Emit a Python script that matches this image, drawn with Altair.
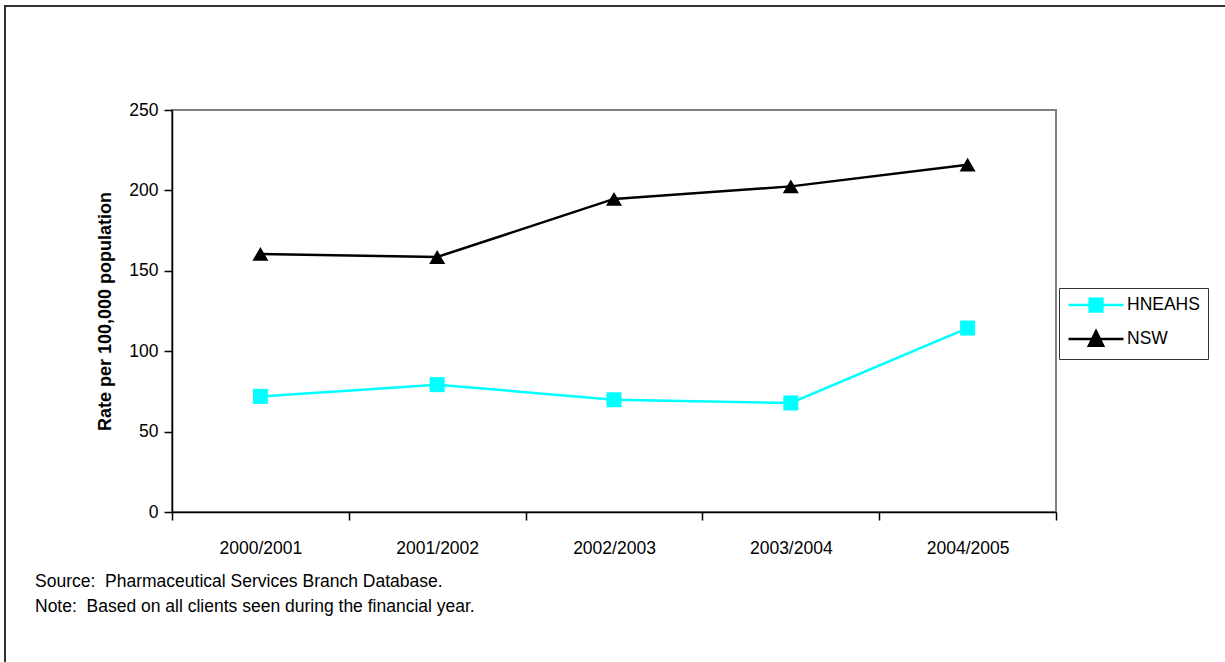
import altair as alt
import pandas as pd

# Financial years on the x axis
years = ["2000/2001", "2001/2002", "2002/2003", "2003/2004", "2004/2005"]
# Rate per 100,000 population, by series
hneahs = [71.9, 79.2, 69.8, 67.8, 114.4]
nsw = [160.5, 158.6, 194.7, 202.5, 216.0]

series_names = ["HNEAHS", "NSW"]
series_colors = ["#00FFFF", "#000000"]
series_shapes = ["square", "triangle-up"]
marker_sizes = [225, 256]
y_ticks = [0, 50, 100, 150, 200, 250]
notes = [
    "Source:\u00a0 Pharmaceutical Services Branch Database.",
    "Note:\u00a0 Based on all clients seen during the financial year.",
]

rows = []
for name, values in zip(series_names, [hneahs, nsw]):
    for yr, v in zip(years, values):
        rows.append({"year": yr, "series": name, "rate": v})
df = pd.DataFrame(rows)

FONT = "Liberation Sans, Arial, sans-serif"
W, H = 884, 402

x_enc = alt.X(
    "year:N",
    sort=years,
    scale=alt.Scale(type="band", paddingInner=0, paddingOuter=0),
    axis=alt.Axis(
        title=None, tickBand="extent", labelAngle=0, tickSize=8,
        labelPadding=19, grid=False,
    ),
)
y_enc = alt.Y(
    "rate:Q",
    scale=alt.Scale(domain=[0, 250], nice=False),
    axis=alt.Axis(
        title="Rate per 100,000 population", values=y_ticks, tickSize=8,
        labelPadding=6, titlePadding=14, grid=False,
    ),
)

base = alt.Chart(df)

# one line + marker layer per series, each in its own fixed colour
series_layers = []
for name, colr, shp, sz in zip(series_names, series_colors, series_shapes, marker_sizes):
    sub = base.transform_filter(alt.datum.series == name)
    series_layers.append(
        sub.mark_line(strokeWidth=2.5, color=colr).encode(x=x_enc, y=y_enc)
    )
    series_layers.append(
        sub.mark_point(shape=shp, filled=True, size=sz, opacity=1, color=colr).encode(x=x_enc, y=y_enc)
    )

# Legend keys: a short line with the series marker in its middle
key_paths = [
    "M-1,0H6.33M1.82,-0.85H3.52V0.85H1.82Z",
    "M-1,0H6.33M2.67,-1.05L3.62,0.9H1.72Z",
]
key_legend = alt.Legend(
    title=None, orient="none", legendX=887, legendY=178, padding=8,
    strokeColor="#333333", fillColor="white", labelFontSize=17.5, labelFont=FONT,
    labelColor="black", symbolSize=225, labelOffset=42, rowPadding=9,
    symbolStrokeWidth=2.5, symbolOpacity=1,
    labelExpr="datum.label == 'NSW' ? '\u00a0NSW' : datum.label",
)
key_colors = alt.Scale(domain=series_names, range=series_colors)
# transparent marks that only carry the legend
key = base.mark_point(filled=True, opacity=0, strokeWidth=2.5, size=225).encode(
    x=x_enc, y=y_enc,
    shape=alt.Shape("series:N", scale=alt.Scale(domain=series_names, range=key_paths), legend=key_legend),
    fill=alt.Fill("series:N", scale=key_colors, legend=key_legend),
    stroke=alt.Stroke("series:N", scale=key_colors, legend=key_legend),
)

note_text = alt.Chart(pd.DataFrame({"t": ["\n".join(notes)]})).mark_text(
    x=-137, y=477, align="left", baseline="alphabetic", lineBreak="\n",
    lineHeight=25, fontSize=17.5, font=FONT, color="black",
).encode(text="t:N")

# outer border of the figure
frame = alt.Chart(pd.DataFrame({"f": [0]})).mark_rect(
    fill="transparent", stroke="#333333", strokeWidth=2
).encode(
    x=alt.value(-167), x2=alt.value(1150), y=alt.value(-104), y2=alt.value(700)
)

chart = alt.layer(frame, *series_layers, key, note_text).properties(
    width=W, height=H,
    autosize=alt.AutoSizeParams(type="none"),
    padding={"left": 172, "top": 110, "right": 169, "bottom": 150},
    background="white",
).configure_view(
    stroke="#808080", strokeWidth=2
).configure_axis(
    labelFont=FONT, titleFont=FONT, labelFontSize=17.5, titleFontSize=18,
    titleFontWeight="bold", labelColor="black", titleColor="black",
    domainColor="black", tickColor="black", domainWidth=1.5, tickWidth=1.5,
)

chart.save("out.html", embed_options={"renderer": "svg", "actions": False})
